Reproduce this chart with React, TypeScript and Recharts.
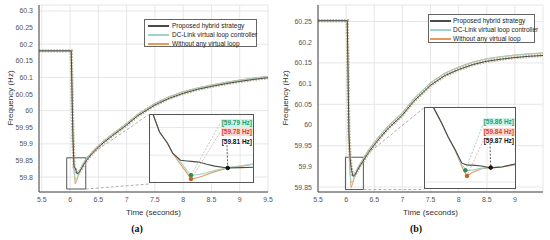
import React from "react";
import { CartesianGrid, LineChart, Line, ReferenceArea, ReferenceDot, ReferenceLine, XAxis, YAxis } from "recharts";

const SERIES_NAMES = ["Proposed hybrid strategy", "DC-Link virtual loop controller", "Without any virtual loop"];
const SERIES_COLORS = ["#4a4a4a", "#9fd3c7", "#e39a5a"];

// panel (a)
const TIME_A = [5.45, 5.5, 6.0, 6.02, 6.05, 6.07, 6.09, 6.12, 6.15, 6.2, 6.25, 6.3, 6.4, 6.5, 6.6, 6.75, 6.9, 7.0, 7.2, 7.5, 7.75, 8.0, 8.25, 8.5, 8.75, 9.0, 9.25, 9.5];
const PROPOSED_A = [60.18, 60.18, 60.18, 60.18, 59.92, 59.83, 59.828, 59.81, 59.812, 59.825, 59.84, 59.852, 59.873, 59.89, 59.905, 59.925, 59.944, 59.957, 59.985, 60.017, 60.037, 60.052, 60.064, 60.073, 60.081, 60.088, 60.094, 60.099];
const DCLINK_A = [60.18, 60.18, 60.18, 60.18, 59.92, 59.825, 59.79, 59.795, 59.812, 59.832, 59.847, 59.858, 59.878, 59.895, 59.91, 59.93, 59.949, 59.962, 59.99, 60.022, 60.042, 60.057, 60.068, 60.077, 60.085, 60.092, 60.098, 60.103];
const NONE_A = [60.18, 60.18, 60.18, 60.18, 59.92, 59.82, 59.78, 59.79, 59.81, 59.83, 59.845, 59.857, 59.878, 59.895, 59.91, 59.93, 59.949, 59.962, 59.99, 60.022, 60.042, 60.057, 60.068, 60.077, 60.085, 60.092, 60.098, 60.103];
const X_TICKS_A = [5.5, 6, 6.5, 7, 7.5, 8, 8.5, 9, 9.5];
const Y_TICKS_A = [59.8, 59.85, 59.9, 59.95, 60, 60.05, 60.1, 60.15, 60.2, 60.25, 60.3];

// inset (a)
const TIME_IN_A = [6.0, 6.015, 6.04, 6.07, 6.09, 6.12, 6.145, 6.16, 6.19, 6.22, 6.25, 6.3, 6.35, 6.4];
const PROPOSED_IN_A = [59.99, 59.957, 59.908, 59.878, 59.85, 59.831, 59.829, 59.828, 59.826, 59.82, 59.815, 59.81, 59.811, 59.812];
const DCLINK_IN_A = [59.99, 59.957, 59.908, 59.878, 59.852, 59.826, 59.803, 59.79, 59.792, 59.797, 59.803, 59.811, 59.816, 59.821];
const NONE_IN_A = [59.99, 59.957, 59.908, 59.878, 59.85, 59.82, 59.796, 59.78, 59.784, 59.792, 59.8, 59.81, 59.815, 59.82];
const MIN_LABELS_A = ["[59.79 Hz]", "[59.78 Hz]", "[59.81 Hz]"];

// panel (b)
const TIME_B = [5.5, 6.0, 6.02, 6.05, 6.07, 6.09, 6.12, 6.15, 6.2, 6.25, 6.3, 6.4, 6.5, 6.6, 6.75, 6.9, 7.0, 7.2, 7.5, 7.75, 8.0, 8.25, 8.5, 8.75, 9.0, 9.25, 9.5];
const PROPOSED_B = [60.252, 60.252, 60.252, 59.98, 59.92, 59.897, 59.876, 59.878, 59.89, 59.902, 59.912, 59.934, 59.952, 59.969, 59.992, 60.011, 60.024, 60.057, 60.096, 60.119, 60.134, 60.146, 60.154, 60.159, 60.163, 60.166, 60.168];
const DCLINK_B = [60.252, 60.252, 60.252, 59.98, 59.885, 59.86, 59.865, 59.878, 59.895, 59.907, 59.918, 59.94, 59.958, 59.975, 59.998, 60.017, 60.03, 60.063, 60.102, 60.125, 60.14, 60.152, 60.16, 60.165, 60.169, 60.172, 60.174];
const NONE_B = [60.252, 60.252, 60.252, 59.98, 59.88, 59.849, 59.86, 59.875, 59.893, 59.905, 59.917, 59.94, 59.958, 59.975, 59.998, 60.017, 60.03, 60.063, 60.102, 60.125, 60.14, 60.152, 60.16, 60.165, 60.169, 60.172, 60.174];
const X_TICKS_B = [5.5, 6, 6.5, 7, 7.5, 8, 8.5, 9];
const Y_TICKS_B = [59.85, 59.9, 59.95, 60, 60.05, 60.1, 60.15, 60.2, 60.25];

// inset (b)
const TIME_IN_B = [6.0, 6.04, 6.075, 6.105, 6.135, 6.165, 6.187, 6.21, 6.25, 6.29, 6.34, 6.4];
const PROPOSED_IN_B = [60.2, 60.088, 60.033, 59.98, 59.935, 59.886, 59.879, 59.879, 59.876, 59.869, 59.872, 59.884];
const DCLINK_IN_B = [60.2, 60.088, 60.033, 59.98, 59.933, 59.878, 59.86, 59.861, 59.868, 59.87, 59.874, 59.881];
const NONE_IN_B = [60.2, 60.088, 60.033, 59.98, 59.933, 59.872, 59.84, 59.852, 59.866, 59.869, 59.873, 59.88];
const MIN_LABELS_B = ["[59.86 Hz]", "[59.84 Hz]", "[59.87 Hz]"];

const FONT = "'Liberation Sans', Arial, sans-serif";

const toRows = (time: number[], p: number[], d: number[], n: number[]) =>
  time.map((t, i) => ({ t, proposed: p[i], dcLink: d[i], none: n[i] }));

const panels = [
  {
    left: 0,
    caption: "(a)",
    captionX: 137,
    marginLeft: 9,
    rows: toRows(TIME_A, PROPOSED_A, DCLINK_A, NONE_A),
    xDomain: [5.45, 9.5],
    yDomain: [59.755, 60.318],
    xTicks: X_TICKS_A,
    yTicks: Y_TICKS_A,
    zoomBox: { x1: 5.94, x2: 6.277, y1: 59.764, y2: 59.858 },
    insetCorner: { t: 7.39, top: 59.988, bottom: 59.779 },
    legend: { left: 144, top: 19, width: 113, height: 28, textLeft: 27, lineLeft: 3 },
    inset: {
      left: 149, top: 114, width: 105, height: 69,
      rows: toRows(TIME_IN_A, PROPOSED_IN_A, DCLINK_IN_A, NONE_IN_A),
      xDomain: [6.0, 6.4],
      yDomain: [59.769, 59.957],
      grid: { v: [6.13, 6.24, 6.347], h: [59.92, 59.845] },
      dots: [{ t: 6.16, f: 59.79 }, { t: 6.16, f: 59.78 }, { t: 6.3, f: 59.81 }],
      starts: [{ t: 6.27, f: 59.93 }, { t: 6.27, f: 59.906 }, { t: 6.297, f: 59.872 }],
      labels: MIN_LABELS_A,
      labelTops: [5, 14, 24],
    },
  },
  {
    left: 275,
    caption: "(b)",
    captionX: 141,
    marginLeft: 13,
    rows: toRows(TIME_B, PROPOSED_B, DCLINK_B, NONE_B),
    xDomain: [5.5, 9.5],
    yDomain: [59.838, 60.29],
    xTicks: X_TICKS_B,
    yTicks: Y_TICKS_B,
    zoomBox: { x1: 5.988, x2: 6.307, y1: 59.844, y2: 59.922 },
    insetCorner: { t: 7.388, top: 60.042, bottom: 59.844 },
    legend: { left: 153, top: 14, width: 107, height: 29, textLeft: 24, lineLeft: 1 },
    inset: {
      left: 149, top: 107, width: 92, height: 82,
      rows: toRows(TIME_IN_B, PROPOSED_IN_B, DCLINK_IN_B, NONE_IN_B),
      xDomain: [6.0, 6.4],
      yDomain: [59.793, 60.088],
      grid: { v: [6.157, 6.274], h: [59.904, 59.818] },
      dots: [{ t: 6.18, f: 59.86 }, { t: 6.187, f: 59.84 }, { t: 6.29, f: 59.87 }],
      starts: [{ t: 6.26, f: 60.032 }, { t: 6.27, f: 59.99 }, { t: 6.287, f: 59.958 }],
      labels: MIN_LABELS_B,
      labelTops: [11, 21, 30],
    },
  },
];

const LABEL_STYLES = [
  { color: "#21a06a", background: "#cff3ea" },
  { color: "#e0402a", background: "#fbdad6" },
  { color: "#111", background: "transparent" },
];
const DOT_COLORS = ["#2f8a4e", "#c0621e", "#111"];
const DASH_COLORS = ["#9cc4b6", "#d9a898", "#333"];

function Series({ width = 1 }: { width?: number }) {
  return (
    <>
      <Line dataKey="none" stroke={SERIES_COLORS[2]} strokeWidth={width} dot={false} isAnimationActive={false} />
      <Line dataKey="dcLink" stroke={SERIES_COLORS[1]} strokeWidth={width} dot={false} isAnimationActive={false} />
      <Line dataKey="proposed" stroke={SERIES_COLORS[0]} strokeWidth={width} dot={false} isAnimationActive={false} />
    </>
  );
}

function Inset({ cfg }: { cfg: any }) {
  return (
    <div style={{ position: "absolute", left: cfg.left, top: cfg.top, width: cfg.width, height: cfg.height, background: "#fff" }}>
      <LineChart width={cfg.width} height={cfg.height} data={cfg.rows} margin={{ top: 0, right: 0, bottom: 0, left: 0 }}>
        <CartesianGrid stroke="#e6e6e6" horizontalValues={cfg.grid.h} verticalValues={cfg.grid.v} />
        <XAxis dataKey="t" type="number" domain={cfg.xDomain} hide allowDataOverflow />
        <YAxis type="number" domain={cfg.yDomain} hide allowDataOverflow />
        <Series width={1.1} />
        {cfg.dots.map((d: any, i: number) => (
          <ReferenceLine key={"s" + i} segment={[{ x: cfg.starts[i].t, y: cfg.starts[i].f }, { x: d.t, y: d.f }]} stroke={DASH_COLORS[i]} strokeDasharray="2 1.5" strokeWidth={0.8} />
        ))}
        {cfg.dots.map((d: any, i: number) => (
          <ReferenceDot key={"d" + i} x={d.t} y={d.f} r={1.8} fill={DOT_COLORS[i]} stroke={DOT_COLORS[i]} />
        ))}
      </LineChart>
      {cfg.labels.map((text: string, i: number) => (
        <div
          key={text}
          style={{
            position: "absolute",
            right: 1,
            top: cfg.labelTops[i],
            fontFamily: FONT,
            fontSize: 6.5,
            fontWeight: 700,
            lineHeight: "8px",
            padding: "0 1px",
            whiteSpace: "nowrap",
            ...LABEL_STYLES[i],
          }}
        >
          {text}
        </div>
      ))}
      <div style={{ position: "absolute", inset: 0, border: "1px solid #555" }} />
    </div>
  );
}

function Legend({ box }: { box: any }) {
  return (
    <div style={{ position: "absolute", left: box.left, top: box.top, width: box.width, height: box.height, border: "1px solid #666", background: "#fff", boxSizing: "border-box" }}>
      {SERIES_NAMES.map((name, i) => (
        <div key={name} style={{ position: "absolute", left: 0, top: 1 + i * 9, height: 9, width: "100%" }}>
          <div style={{ position: "absolute", left: box.lineLeft, top: 4, width: 21, height: 1.6, background: SERIES_COLORS[i] }} />
          <span style={{ position: "absolute", left: box.textLeft, top: 0, fontFamily: FONT, fontSize: 6.5, lineHeight: "9px", color: "#222", whiteSpace: "nowrap" }}>{name}</span>
        </div>
      ))}
    </div>
  );
}

function Panel({ cfg }: { cfg: any }) {
  const plotLeft = cfg.marginLeft + 30;
  const plotRight = 268;
  return (
    <div style={{ position: "absolute", left: cfg.left, top: 0, width: 275, height: 240 }}>
      <LineChart width={275} height={210} data={cfg.rows} margin={{ top: 5, right: 7, bottom: 4, left: cfg.marginLeft }}>
        <CartesianGrid stroke="#e6e6e6" />
        <XAxis dataKey="t" type="number" domain={cfg.xDomain} ticks={cfg.xTicks} allowDataOverflow height={14} tickLine={false} tickSize={3} tickMargin={2} axisLine={{ stroke: "#444" }} tick={{ fontSize: 7, fill: "#555", fontFamily: FONT }} />
        <YAxis type="number" domain={cfg.yDomain} ticks={cfg.yTicks} allowDataOverflow width={30} tickLine={false} tickSize={3} tickMargin={3} axisLine={{ stroke: "#444" }} tick={{ fontSize: 7, fill: "#555", fontFamily: FONT }} />
        <XAxis xAxisId="top" orientation="top" type="number" domain={cfg.xDomain} height={0} tick={false} axisLine={{ stroke: "#444" }} />
        <YAxis yAxisId="right" orientation="right" type="number" domain={cfg.yDomain} width={0} tick={false} axisLine={{ stroke: "#444" }} />
        <Line dataKey="proposed" stroke="#c2b698" strokeWidth={3.4} strokeDasharray="1.6 1.3" dot={false} isAnimationActive={false} legendType="none" />
        <Series />
        <ReferenceArea x1={cfg.zoomBox.x1} x2={cfg.zoomBox.x2} y1={cfg.zoomBox.y1} y2={cfg.zoomBox.y2} fill="none" fillOpacity={0} stroke="#444" strokeWidth={0.9} />
        <ReferenceLine segment={[{ x: cfg.zoomBox.x2, y: cfg.zoomBox.y2 }, { x: cfg.insetCorner.t, y: cfg.insetCorner.top }]} stroke="#9a9a9a" strokeDasharray="3 2" strokeWidth={0.8} />
        <ReferenceLine segment={[{ x: cfg.zoomBox.x2, y: cfg.zoomBox.y1 }, { x: cfg.insetCorner.t, y: cfg.insetCorner.bottom }]} stroke="#9a9a9a" strokeDasharray="3 2" strokeWidth={0.8} />
      </LineChart>
      <Legend box={cfg.legend} />
      <Inset cfg={cfg.inset} />
      <div style={{ position: "absolute", left: 10, top: 98, transform: "translate(-50%, -50%) rotate(-90deg)", fontFamily: FONT, fontSize: 8, color: "#333", whiteSpace: "nowrap" }}>
        Frequency (Hz)
      </div>
      <div style={{ position: "absolute", left: plotLeft, width: plotRight - plotLeft, top: 208, textAlign: "center", fontFamily: FONT, fontSize: 8, color: "#333" }}>
        Time (seconds)
      </div>
      <div style={{ position: "absolute", left: cfg.captionX - 20, width: 40, top: 223, textAlign: "center", fontFamily: "'Liberation Serif', 'Times New Roman', serif", fontSize: 10, fontWeight: 700, color: "#111" }}>
        {cfg.caption}
      </div>
    </div>
  );
}

export default function App() {
  return (
    <div style={{ position: "fixed", left: 0, top: 0, width: 550, height: 240, background: "#fff", overflow: "hidden" }}>
      {panels.map((p) => (
        <Panel key={p.caption} cfg={p} />
      ))}
    </div>
  );
}
